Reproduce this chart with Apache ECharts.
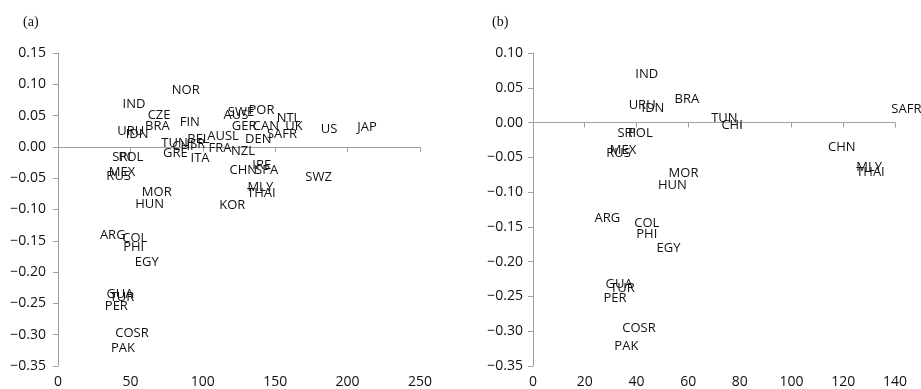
<!DOCTYPE html>
<html>
<head>
<meta charset="utf-8">
<script src="https://cdn.jsdelivr.net/npm/echarts@6/dist/echarts.min.js"></script>
<style>
html,body{margin:0;padding:0;background:#fff;}
#chart{width:921px;height:389px;}
</style>
</head>
<body>
<div id="chart"></div>
<script>
// Panel (a)
const countriesA = ['NOR','IND','CZE','FIN','AUS','SWE','POR','NTL','UK','GER','CAN','US','JAP','SAFR','DEN','AUSL','TUN','CHI','ISR','BEL','FRA','NZL','GRE','ITA','URU','IDN','BRA','SRI','POL','MEX','RUS','MOR','HUN','KOR','SWZ','CHN','IRE','SPA','MLY','THAI','ARG','COL','PHI','EGY','GUA','TUR','PER','COSR','PAK'];
const xA = [88.2,52.5,69.8,91.0,122.9,126.4,140.5,159.2,163.0,128.5,143.6,187.2,213.4,154.7,138.3,114.0,80.5,86.3,95.3,97.0,111.9,127.8,81.1,98.1,50.2,54.6,68.6,44.0,50.4,44.2,41.9,68.2,63.3,120.4,180.0,128.0,140.7,144.1,139.7,140.4,37.8,53.0,52.3,61.3,42.8,44.2,40.3,51.1,44.9];
const yA = [0.090,0.068,0.050,0.039,0.050,0.055,0.059,0.045,0.033,0.033,0.033,0.0275,0.031,0.0196,0.0116,0.0175,0.006,0.0005,0.0045,0.0116,-0.002,-0.0075,-0.011,-0.0175,0.025,0.0196,0.033,-0.0166,-0.0166,-0.040,-0.047,-0.073,-0.092,-0.093,-0.049,-0.037,-0.030,-0.037,-0.065,-0.074,-0.141,-0.146,-0.161,-0.184,-0.235,-0.2395,-0.255,-0.298,-0.322];

// Panel (b)
const countriesB = ['IND','URU','IDN','BRA','SAFR','TUN','CHI','SRI','POL','MEX','RUS','CHN','MLY','THAI','MOR','HUN','ARG','COL','PHI','EGY','GUA','TUR','PER','COSR','PAK'];
const xB = [44.0,42.2,46.4,59.5,144.4,74.0,77.0,36.3,41.5,34.8,33.1,119.4,130.0,130.5,58.2,53.9,28.8,44.0,44.0,52.4,33.3,34.6,31.7,41.0,36.1];
const yB = [0.070,0.0245,0.021,0.034,0.019,0.0055,-0.004,-0.016,-0.016,-0.040,-0.0437,-0.035,-0.064,-0.072,-0.0724,-0.090,-0.138,-0.145,-0.160,-0.181,-0.233,-0.239,-0.2525,-0.2955,-0.321];

// Axis ranges
const xRangeA = {min: 0, max: 250, interval: 50};
const yRangeA = {min: -0.35, max: 0.15, interval: 0.05};
const xRangeB = {min: 0, max: 140, interval: 20};
const yRangeB = {min: -0.35, max: 0.10, interval: 0.05};
const panelTitles = ['(a)', '(b)'];

const AXIS_COLOR = '#a0a0a0';
const TEXT_COLOR = '#111';
const FONT = 'Open Sans';

function yFmt(v) {
  const r = Math.round(v * 100);
  return (r < 0 ? '\u2212' : '') + (Math.abs(r) / 100).toFixed(2);
}
function labelAxisX(grid, range) {
  return Object.assign({
    type: 'value', gridIndex: grid, position: 'bottom',
    axisLine: {show: false, onZero: false},
    axisTick: {show: false},
    splitLine: {show: false},
    axisLabel: {color: TEXT_COLOR, fontFamily: FONT, fontSize: 14, margin: 9}
  }, range);
}
function zeroAxisX(grid, range) {
  return Object.assign({
    type: 'value', gridIndex: grid, position: 'bottom',
    axisLine: {show: true, onZero: true, lineStyle: {color: AXIS_COLOR, width: 1}},
    axisTick: {show: true, length: 5, inside: false, lineStyle: {color: AXIS_COLOR}},
    splitLine: {show: false},
    axisLabel: {show: false}
  }, range);
}
function yAxisDef(grid, range, margin) {
  return Object.assign({
    type: 'value', gridIndex: grid,
    axisLine: {show: true, onZero: false, lineStyle: {color: AXIS_COLOR, width: 1}},
    axisTick: {show: true, length: 5, lineStyle: {color: AXIS_COLOR}},
    splitLine: {show: false},
    axisLabel: {color: TEXT_COLOR, fontFamily: FONT, fontSize: 14, margin: margin, formatter: yFmt}
  }, range);
}
function seriesDef(names, xs, ys, xi, yi) {
  return {
    type: 'scatter', xAxisIndex: xi, yAxisIndex: yi,
    symbol: 'circle', symbolSize: 1, clip: false,
    itemStyle: {color: 'rgba(255,255,255,0)'},
    label: {
      show: true, position: [0.5, 0.5], align: 'center', verticalAlign: 'middle',
      color: TEXT_COLOR, textBorderWidth: 0, opacity: 1,
      fontFamily: FONT, fontSize: 13,
      formatter: p => p.data[2]
    },
    labelLayout: {hideOverlap: false},
    emphasis: {disabled: true},
    data: names.map((n, i) => [xs[i], ys[i], n])
  };
}

const chart = echarts.init(document.getElementById('chart'), null, {renderer: 'canvas'});
chart.setOption({
  animation: false,
  backgroundColor: '#fff',
  title: [
    {text: panelTitles[0], left: 18, top: 10, textStyle: {fontFamily: 'Liberation Serif', fontSize: 14, fontWeight: 'normal', color: TEXT_COLOR}},
    {text: panelTitles[1], left: 487, top: 10, textStyle: {fontFamily: 'Liberation Serif', fontSize: 14, fontWeight: 'normal', color: TEXT_COLOR}}
  ],
  grid: [
    {left: 58, top: 53, width: 362, height: 314},
    {left: 533, top: 53, width: 362, height: 314}
  ],
  xAxis: [
    labelAxisX(0, xRangeA),
    zeroAxisX(0, xRangeA),
    labelAxisX(1, xRangeB),
    zeroAxisX(1, xRangeB)
  ],
  yAxis: [
    yAxisDef(0, yRangeA, 12),
    yAxisDef(1, yRangeB, 10)
  ],
  series: [
    seriesDef(countriesA, xA, yA, 0, 0),
    seriesDef(countriesB, xB, yB, 2, 1)
  ]
});
</script>
</body>
</html>
